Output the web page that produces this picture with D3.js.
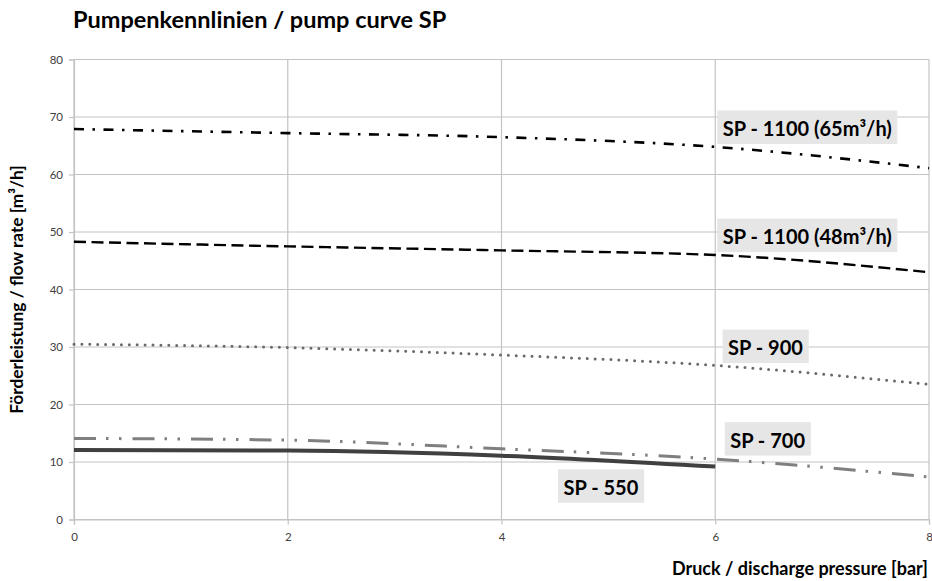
<!DOCTYPE html>
<html lang="de">
<head>
  <meta charset="UTF-8">
  <title>Pumpenkennlinien / pump curve SP</title>
  <script src="https://d3js.org/d3.v7.min.js"></script>
  <style>
    body { margin: 0; background: #fff; font-family: Lato, 'Open Sans', sans-serif; }
    svg { display: block; }
    .tick text { fill: #404040; font-size: 11.5px; font-family: Lato, sans-serif; }
  </style>
</head>
<body>
  <svg width="932" height="581"></svg>
  <script>
    // pressure in bar
    const pressures = [0, 2, 4, 6, 8];
    // flow rates in m³/h
    const sp1100_65 = [67.9, 67.2, 66.5, 64.8, 61.1];
    const sp1100_48 = [48.3, 47.5, 46.8, 46.0, 43.0];
    const sp900 = [30.5, 29.9, 28.6, 26.8, 23.5];
    const sp700 = [14.1, 13.8, 12.3, 10.5, 7.4];
    const sp550 = [12.1, 12.0, 11.1, 9.2];
    const xTicks = [0, 2, 4, 6, 8];
    const yTicks = [0, 10, 20, 30, 40, 50, 60, 70, 80];
    const seriesNames = ["SP - 1100 (65m³/h)", "SP - 1100 (48m³/h)", "SP - 900", "SP - 700", "SP - 550"];

    const svg = d3.select("svg");
    const m = { left: 74, right: 929, top: 59.5, bottom: 519.5 };

    const x = d3.scaleLinear().domain([0, 8]).range([m.left, m.right]);
    const y = d3.scaleLinear().domain([0, 80]).range([m.bottom, m.top]);

    // grid
    svg.append("g").selectAll("line").data(yTicks).join("line")
      .attr("x1", m.left).attr("x2", m.right)
      .attr("y1", d => y(d)).attr("y2", d => y(d))
      .attr("stroke", "#c4c4c4").attr("stroke-width", 1.2);
    svg.append("g").selectAll("line").data(xTicks).join("line")
      .attr("y1", m.top).attr("y2", m.bottom)
      .attr("x1", d => x(d)).attr("x2", d => x(d))
      .attr("stroke", "#c4c4c4").attr("stroke-width", 1.2);

    // axes
    const yAxis = svg.append("g").attr("transform", `translate(${m.left},0)`)
      .call(d3.axisLeft(y).tickValues(yTicks).tickSize(5).tickPadding(6));
    const xAxis = svg.append("g").attr("transform", `translate(0,${m.bottom})`)
      .call(d3.axisBottom(x).tickValues(xTicks).tickSize(5).tickPadding(8));
    [xAxis, yAxis].forEach(a => {
      a.select(".domain").attr("stroke", "#c4c4c4").attr("stroke-width", 1.2);
      a.selectAll(".tick line").attr("stroke", "#c4c4c4").attr("stroke-width", 1.2);
    });

    const line = d3.line().curve(d3.curveMonotoneX).x(d => x(d[0])).y(d => y(d[1]));
    const pairs = vals => vals.map((v, i) => [pressures[i], v]);

    const styles = [
      { data: sp1100_65, stroke: "#000", width: 2.6, dash: "10,8.5,2.5,8.5", cap: "butt" },
      { data: sp1100_48, stroke: "#000", width: 2.4, dash: "12,5.5", cap: "butt" },
      { data: sp900, stroke: "#6a6a6a", width: 3, dash: "0,7.9", cap: "round" },
      { data: sp700, stroke: "#7f7f7f", width: 3, dash: "22,10,2.5,10.5,2.5,11", cap: "butt" },
      { data: sp550, stroke: "#404040", width: 4, dash: null, cap: "butt" }
    ];

    svg.append("g").selectAll("path").data(styles).join("path")
      .attr("d", d => line(pairs(d.data)))
      .attr("fill", "none")
      .attr("stroke", d => d.stroke)
      .attr("stroke-width", d => d.width)
      .attr("stroke-dasharray", d => d.dash)
      .attr("stroke-linecap", d => d.cap);

    // curve labels: text start / baseline in chart units (bar, m³/h)
    const labelPos = [[6.07, 66.7], [6.07, 47.9], [6.12, 28.6], [6.14, 12.5], [4.58, 4.3]];
    const lab = svg.append("g").selectAll("g").data(seriesNames).join("g")
      .attr("transform", (d, i) => `translate(${x(labelPos[i][0])},${y(labelPos[i][1])})`);
    lab.append("text").text(d => d)
      .attr("font-size", 20).attr("font-weight", 700).attr("fill", "#000")
      .attr("x", 0).attr("y", 0);
    lab.each(function() {
      const g = d3.select(this);
      const b = g.select("text").node().getBBox();
      g.insert("rect", "text")
        .attr("x", b.x - 5.5).attr("y", -25.5).attr("width", b.width + 11).attr("height", 33.5)
        .attr("fill", "#e6e6e6");
    });

    // titles
    svg.append("text").attr("x", 73).attr("y", 28)
      .attr("font-size", 23.5).attr("font-weight", 700).attr("fill", "#000")
      .text("Pumpenkennlinien / pump curve SP");
    svg.append("text").attr("x", 928).attr("y", 575).attr("text-anchor", "end")
      .attr("font-size", 18).attr("font-weight", 700).attr("fill", "#000")
      .text("Druck / discharge pressure [bar]");
    svg.append("text")
      .attr("transform", `translate(23,${(m.top + m.bottom) / 2}) rotate(-90)`)
      .attr("text-anchor", "middle")
      .attr("font-size", 17.3).attr("font-weight", 700).attr("fill", "#000")
      .text("Förderleistung / flow rate [m³/h]");
  </script>
</body>
</html>
